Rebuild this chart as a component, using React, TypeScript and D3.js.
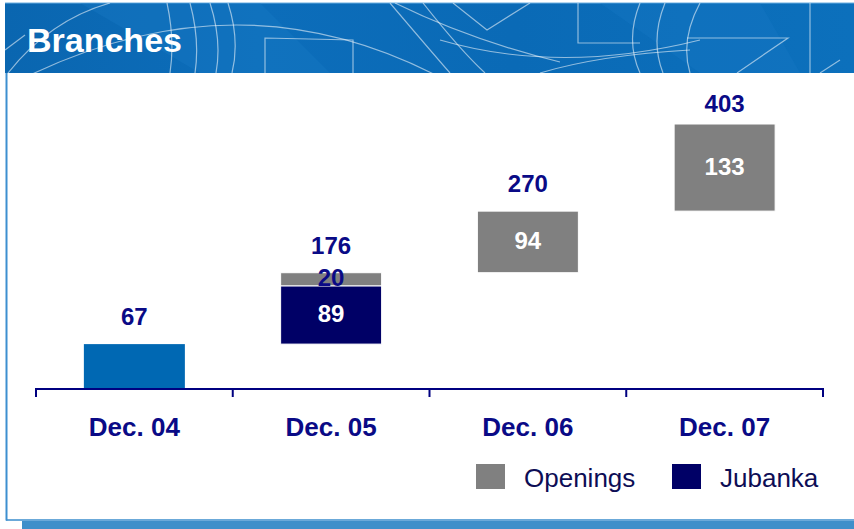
import React from "react";
import * as d3 from "d3";

const categories = ["Dec. 04", "Dec. 05", "Dec. 06", "Dec. 07"];
const baseValues = [67, 0, 0, 0];
const jubanka = [0, 89, 0, 0];
const openings = [0, 20, 94, 133];
const totals = [67, 176, 270, 403];
const legendItems = ["Openings", "Jubanka"];
const title = "Branches";

const W = 854;
const H = 529;
const FONT = "Arial, 'Liberation Sans', sans-serif";
const NAVY_TEXT = "#0a0a86";
const NAVY_BAR = "#000066";
const GRAY = "#808080";
const BASE_BLUE = "#0068b3";

type Seg = { cat: string; y0: number; y1: number; value: number; color: string; kind: string };

export default function App() {
  const x = d3.scaleBand<string>().domain(categories).range([36, 823]).padding(0);
  const y = d3.scaleLinear().domain([0, 403]).range([388, 124]);
  const barW = 101;

  const segs: Seg[] = [];
  let running = 0;
  categories.forEach((c, i) => {
    if (baseValues[i] > 0) {
      segs.push({ cat: c, y0: 0, y1: baseValues[i], value: baseValues[i], color: BASE_BLUE, kind: "base" });
      running = baseValues[i];
    }
    if (jubanka[i] > 0) {
      segs.push({ cat: c, y0: running, y1: running + jubanka[i], value: jubanka[i], color: NAVY_BAR, kind: "jub" });
      running += jubanka[i];
    }
    if (openings[i] > 0) {
      segs.push({ cat: c, y0: running, y1: running + openings[i], value: openings[i], color: GRAY, kind: "open" });
      running += openings[i];
    }
  });

  const ticks = [...categories.map((c) => x(c)!), x.range()[1]];
  const pat = { stroke: "#ffffff", strokeOpacity: 0.55, strokeWidth: 1.2, fill: "none" };

  return (
    <svg width={W} height={H} style={{ position: "absolute", left: 0, top: 0, background: "#fff" }}>
      <defs>
        <linearGradient id="hdr" x1="0" y1="0" x2="1" y2="0">
          <stop offset="0" stopColor="#0a66b0" />
          <stop offset="0.3" stopColor="#0c6dba" />
          <stop offset="0.6" stopColor="#0a6ab6" />
          <stop offset="1" stopColor="#0c70bc" />
        </linearGradient>
        <clipPath id="hclip">
          <rect x={5} y={3} width={W - 5} height={70} />
        </clipPath>
      </defs>

      {/* frame */}
      <rect x={22} y={521} width={W - 22} height={8} fill="#3f8fca" />
      <line x1={6} y1={520} x2={W} y2={520} stroke="#3a8ccc" strokeWidth={1.5} />
      <line x1={6.5} y1={73} x2={6.5} y2={520.5} stroke="#3d8fd0" strokeWidth={2} />

      {/* header */}
      <rect x={5} y={3} width={W - 5} height={70} fill="url(#hdr)" />
      <line x1={5} y1={3} x2={W} y2={3} stroke="#6aaee0" strokeWidth={1} />
      <g clipPath="url(#hclip)">
        <path d="M 80 3 L 200 73 L 330 73 L 260 3 Z" fill="#1a7cc6" opacity={0.35} />
        <path d="M 600 3 L 700 73 L 800 73 L 760 3 Z" fill="#1a7cc6" opacity={0.3} />
        <path d="M 20 80 Q 240 -30 445 80" {...pat} />
        <path d="M 5 50 L 25 35" {...pat} />
        <path d="M 8 73 Q 50 20 110 3" {...pat} />
        <path d="M 167 3 Q 175 40 170 73" {...pat} />
        <path d="M 190 3 Q 200 40 195 73" {...pat} />
        <path d="M 210 3 Q 222 40 216 73" {...pat} />
        <path d="M 228 3 Q 240 40 232 73" {...pat} />
        <path d="M 265 73 L 265 38 L 353 40 L 353 73" {...pat} />
        <path d="M 390 3 Q 430 50 450 73" {...pat} />
        <path d="M 423 3 Q 460 50 485 73" {...pat} />
        <path d="M 395 3 Q 470 40 560 62" {...pat} />
        <path d="M 453 3 L 487 30 L 530 3" {...pat} />
        <path d="M 440 40 Q 560 75 700 40" {...pat} />
        <path d="M 578 3 L 578 43 L 640 43" {...pat} />
        <path d="M 640 3 Q 625 40 640 73" {...pat} />
        <path d="M 665 3 Q 650 40 663 73" {...pat} />
        <path d="M 700 3 Q 680 40 690 73" {...pat} />
        <path d="M 687 38 L 788 38 L 737 73" {...pat} />
        <path d="M 810 3 L 810 73" {...pat} />
        <path d="M 820 73 L 840 60" {...pat} />
        <path d="M 540 73 Q 600 55 690 50" {...pat} />
      </g>
      <text x={27} y={52} fill="#ffffff" fontFamily={FONT} fontWeight="bold" fontSize={34}>
        {title}
      </text>

      {/* bars */}
      {segs.map((s, i) => (
        <rect
          key={i}
          x={x(s.cat)! + x.bandwidth() / 2 - barW / 2}
          y={y(s.y1)}
          width={barW}
          height={y(s.y0) - y(s.y1)}
          fill={s.color}
          stroke="#ffffff"
          strokeWidth={s.kind === "base" ? 0 : 1}
        />
      ))}

      {/* inner labels */}
      {segs
        .filter((s) => s.kind !== "base")
        .map((s, i) => {
          const h = y(s.y0) - y(s.y1);
          return (
            <text
              key={i}
              x={x(s.cat)! + x.bandwidth() / 2}
              y={(y(s.y0) + y(s.y1)) / 2}
              dy="0.3em"
              textAnchor="middle"
              fill={h < 20 ? NAVY_TEXT : "#ffffff"}
              fontFamily={FONT}
              fontWeight="bold"
              fontSize={24}
            >
              {s.value}
            </text>
          );
        })}

      {/* total labels */}
      {categories.map((c, i) => (
        <text
          key={c}
          x={x(c)! + x.bandwidth() / 2}
          y={Math.max(y(totals[i]) - 19, 112)}
          textAnchor="middle"
          fill={NAVY_TEXT}
          fontFamily={FONT}
          fontWeight="bold"
          fontSize={24}
        >
          {totals[i]}
        </text>
      ))}

      {/* axis */}
      <line x1={x.range()[0]} y1={389} x2={x.range()[1]} y2={389} stroke="#000080" strokeWidth={2} />
      {ticks.map((t, i) => (
        <line key={i} x1={t} y1={388} x2={t} y2={397} stroke="#000080" strokeWidth={2} />
      ))}
      {categories.map((c) => (
        <text
          key={c}
          x={x(c)! + x.bandwidth() / 2}
          y={436}
          textAnchor="middle"
          fill={NAVY_TEXT}
          fontFamily={FONT}
          fontWeight="bold"
          fontSize={26}
        >
          {c}
        </text>
      ))}

      {/* legend */}
      {legendItems.map((l, i) => (
        <g key={l} transform={`translate(${476 + i * 196},464)`}>
          <rect width={29} height={25} fill={i === 0 ? GRAY : NAVY_BAR} />
          <text x={48} y={23} fill="#0d0d55" fontFamily={FONT} fontSize={26}>
            {l}
          </text>
        </g>
      ))}
    </svg>
  );
}
